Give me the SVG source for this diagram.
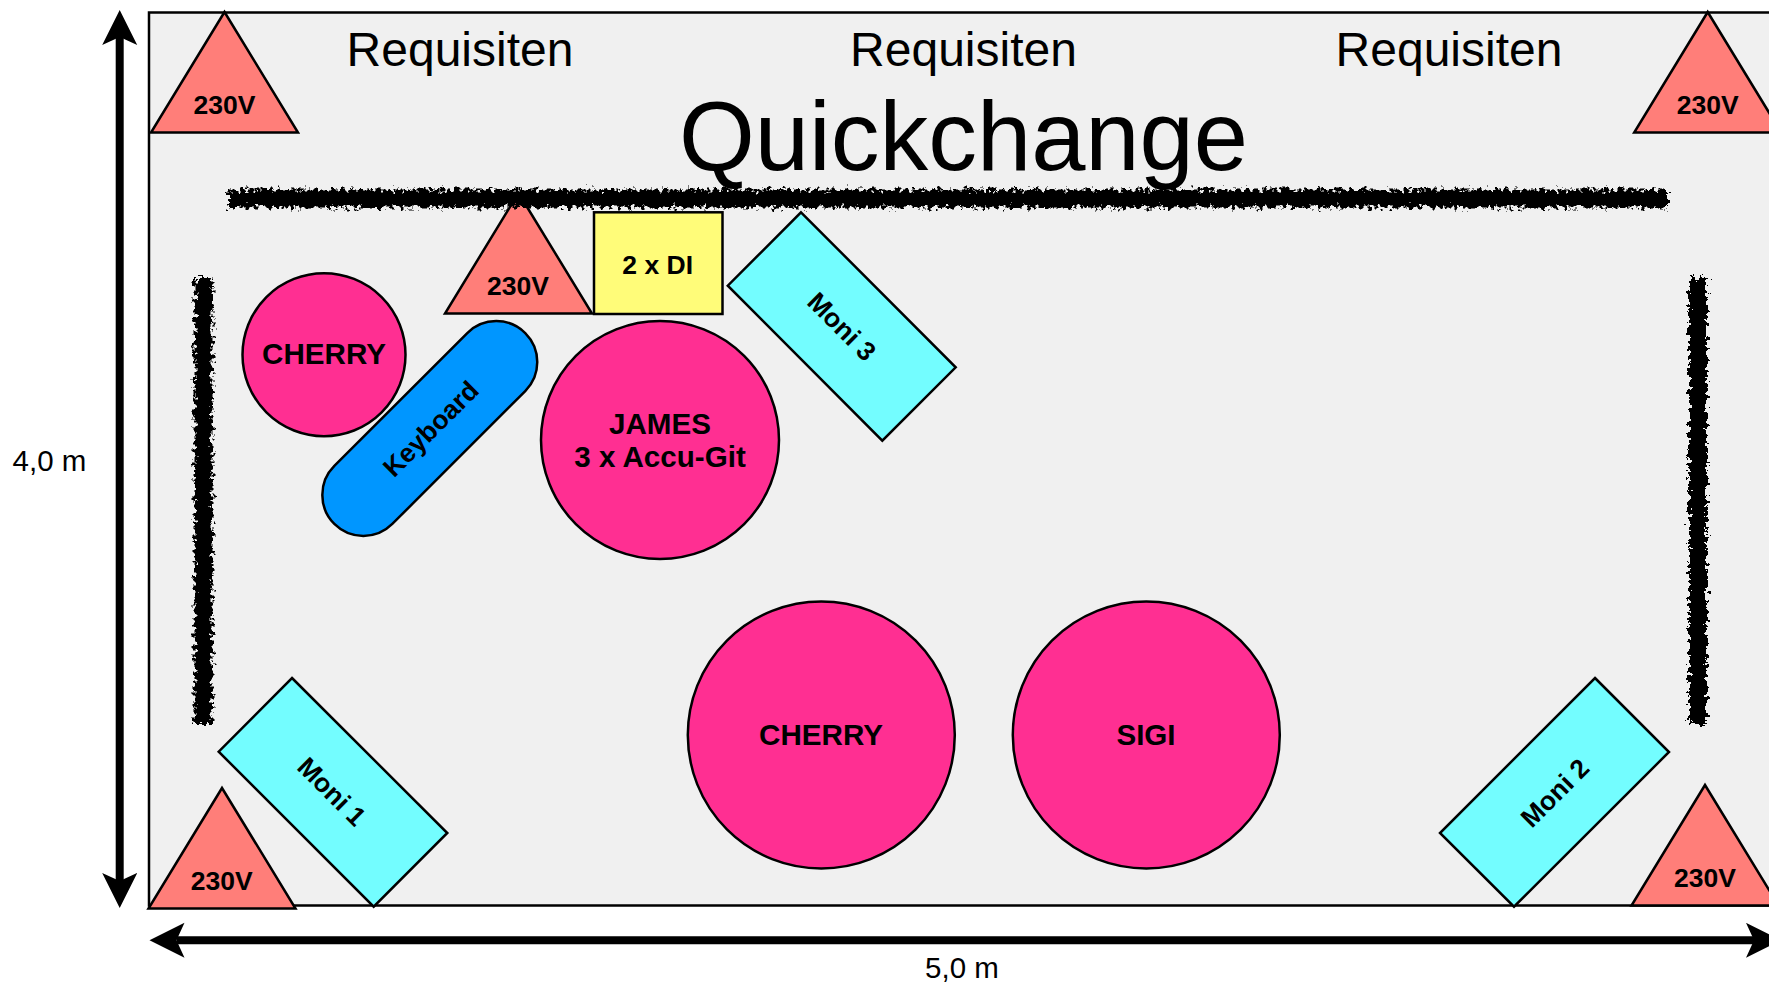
<svg xmlns="http://www.w3.org/2000/svg" width="1769" height="983" viewBox="0 0 1769 983">
<style>
text{font-family:"Liberation Sans",Arial,sans-serif;fill:#000;text-anchor:middle}
.s{stroke:#000;stroke-width:2.5;stroke-linejoin:miter}
.pw{fill:#ff7e79}
.mb{fill:#ff2f92}
.mon{fill:#73fdff}
.b26{font-weight:700;font-size:26.500px}
.b29{font-weight:700;font-size:29.600px}
.r{font-size:48px}
.m{font-size:29.500px}
.sk{fill:#000;filter:url(#rough)}
.arr{fill:none;stroke:#000;stroke-width:8;marker-start:url(#head);marker-end:url(#head)}
</style>
<defs>
<marker id="head" markerUnits="userSpaceOnUse" markerWidth="36" markerHeight="36" viewBox="0 0 36 36" refX="8" refY="17.5" orient="auto-start-reverse"><path d="M0 0L35 17.5L0 35L8 17.5Z" fill="#000"/></marker>
<filter id="rough" x="-20" y="-20" width="40" height="40" filterUnits="objectBoundingBox" primitiveUnits="userSpaceOnUse" color-interpolation-filters="sRGB">
<feTurbulence type="fractalNoise" baseFrequency="0.22" numOctaves="4" seed="7" result="n"/>
<feDisplacementMap in="SourceGraphic" in2="n" scale="14" xChannelSelector="R" yChannelSelector="G"/>
</filter>
<polygon id="tri" points="0,0 73.500,120.500 -73.500,120.500" class="s pw"/>
</defs>
<g id="stage"><rect x="149" y="12.500" width="1640" height="893" fill="#f0f0f0" class="s"/></g>
<g id="power-mid"><use href="#tri" x="518.500" y="193"/><text class="b26" x="518" y="295">230V</text></g>
<g id="curtains">
<rect class="sk" x="228" y="189.500" width="1439" height="18"/>
<rect class="sk" x="194.500" y="278" width="18" height="446"/>
<rect class="sk" x="1689" y="278" width="18" height="446"/>
</g>
<g id="connectors">
<line class="arr" x1="119.700" y1="37" x2="119.700" y2="881"/>
<line class="arr" x1="176.500" y1="940.300" x2="1754" y2="940.300"/>
</g>
<g id="lbl-req1"><text class="r" x="460" y="66">Requisiten</text></g>
<g id="lbl-req2"><text class="r" x="963.500" y="66">Requisiten</text></g>
<g id="lbl-req3"><text class="r" x="1449" y="66">Requisiten</text></g>
<g id="lbl-quick"><text x="963.500" y="170" font-size="97.500">Quickchange</text></g>
<g id="lbl-4m"><text class="m" x="49.500" y="471">4,0 m</text></g>
<g id="lbl-5m"><text class="m" x="962" y="978">5,0 m</text></g>
<g id="power-tl"><use href="#tri" x="224.500" y="12"/><text class="b26" x="224.500" y="114">230V</text></g>
<g id="power-tr"><use href="#tri" x="1707.700" y="12"/><text class="b26" x="1707.700" y="114">230V</text></g>
<g id="power-bl"><use href="#tri" x="222" y="788"/><text class="b26" x="221.700" y="890">230V</text></g>
<g id="power-br"><use href="#tri" x="1705" y="785"/><text class="b26" x="1705" y="887">230V</text></g>
<g id="cherry-small"><circle class="s mb" cx="324" cy="354.700" r="81.500"/><text class="b29" x="324" y="364">CHERRY</text></g>
<g id="keyboard"><rect class="s" x="295" y="387" width="270" height="82" rx="41" ry="41" fill="#0096ff" transform="rotate(-45 430.500 428.500)"/><text class="b26" x="430.500" y="438" transform="rotate(-45 430.500 428.500)">Keyboard</text></g>
<g id="di"><rect class="s" x="594" y="212.300" width="128.500" height="101.700" fill="#fffc79"/><text class="b26" x="657.700" y="274">2 x DI</text></g>
<g id="james"><circle class="s mb" cx="660" cy="440" r="119"/><text class="b29" x="660" y="434">JAMES</text><text class="b29" x="660" y="467">3 x Accu-Git</text></g>
<g id="moni3"><polygon class="s mon" points="801,212.300 955.700,367.300 882.300,440.700 727.800,285.700"/><text class="b26" x="841.700" y="335.700" transform="rotate(45 841.700 326.700)">Moni 3</text></g>
<g id="moni1"><polygon class="s mon" points="292,678 447.300,833 373.700,906.700 218.700,751.700"/><text class="b26" x="331.700" y="800.700" transform="rotate(45 331.700 791.700)">Moni 1</text></g>
<g id="moni2"><polygon class="s mon" points="1595,678 1669,752 1514,906.700 1440,833"/><text class="b26" x="1555" y="802" transform="rotate(-45 1555 793)">Moni 2</text></g>
<g id="cherry-big"><circle class="s mb" cx="821.300" cy="735" r="133.500"/><text class="b29" x="821" y="745">CHERRY</text></g>
<g id="sigi"><circle class="s mb" cx="1146.300" cy="735" r="133.500"/><text class="b29" x="1146" y="745">SIGI</text></g>
</svg>
